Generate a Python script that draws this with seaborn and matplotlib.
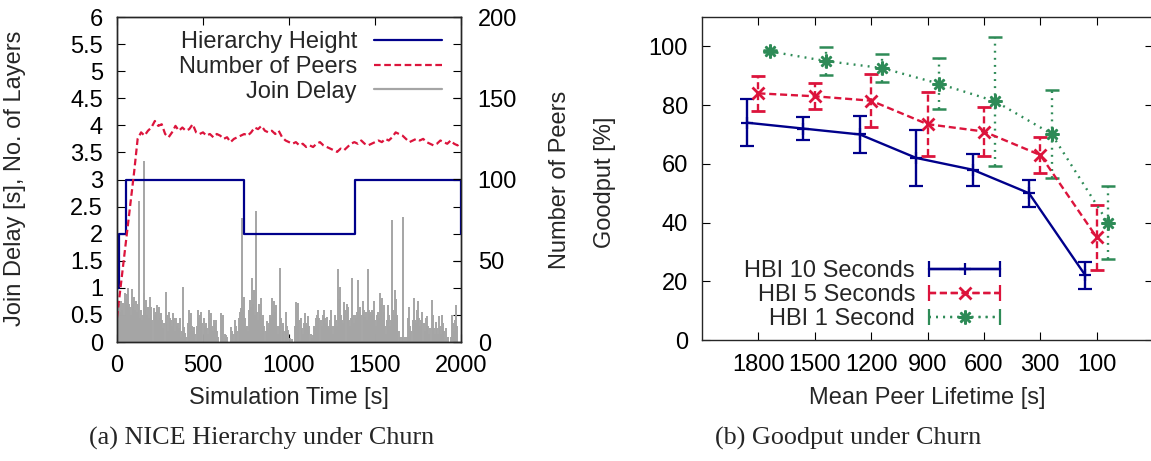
import matplotlib
matplotlib.use("Agg")
import matplotlib.pyplot as plt
import seaborn as sns
import numpy as np
from matplotlib.lines import Line2D
from matplotlib.legend_handler import HandlerTuple, HandlerLine2D

# ---- (a) NICE hierarchy under churn ----
height_t = [0, 10, 52, 738, 1386, 2000]
height_v = [1, 2, 3, 2, 3, 2]

peers_t = list(range(0, 2001, 20))
peers_v = [15, 33, 51, 69, 87, 105, 125, 129, 127, 130, 132, 136, 133, 134, 128, 126,
           129, 133, 130, 132, 130, 131, 134, 129, 128, 129, 127, 128, 126, 128, 127,
           125, 126, 123, 125, 126, 127, 128, 127, 129, 132, 131, 133, 130, 129, 130,
           128, 130, 126, 124, 123, 122, 123, 121, 122, 120, 121, 120, 122, 123, 121,
           120, 119, 118, 117, 119, 118, 120, 122, 123, 122, 124, 122, 121, 122, 123,
           124, 123, 125, 124, 126, 129, 128, 127, 125, 123, 124, 125, 124, 125, 123,
           122, 121, 122, 124, 123, 122, 124, 122, 121, 123]

delay_t = [3, 9, 15, 21, 27, 33, 39, 45, 51, 57, 63, 69, 75, 81, 87, 93, 99, 105, 111, 117,
           123, 127, 132, 137, 143, 149, 155, 159, 164, 170, 176, 182, 188, 194, 200, 206,
           213, 219, 225, 231, 237, 243, 249, 255, 261, 268, 275, 282, 288, 294, 300, 306,
           312, 318, 324, 330, 336, 342, 348, 354, 360, 366, 372, 378, 382, 388, 394, 402,
           414, 420, 426, 432, 438, 444, 450, 456, 464, 471, 477, 483, 489, 495, 504, 510,
           516, 522, 528, 534, 540, 546, 552, 558, 564, 570, 576, 582, 590, 607, 613, 619,
           625, 632, 640, 660, 666,
           674, 686, 692, 700, 708, 714, 720, 725, 729, 734, 740, 746, 752, 758, 764, 770,
           775, 781, 787, 792, 797, 802, 808, 814, 820, 825, 831, 837, 843, 851, 857, 864,
           870, 876, 884, 890, 896, 903, 908, 913, 918, 924, 930, 936, 942, 948, 954, 963,
           968, 975, 982, 988, 996, 1003, 1020, 1035, 1041, 1048, 1055, 1061, 1068, 1075,
           1082, 1088, 1093, 1099, 1104, 1109, 1116, 1125, 1135, 1141, 1147, 1152, 1157,
           1164, 1171, 1177, 1184, 1190, 1196, 1203, 1209, 1215, 1219, 1225, 1232, 1237,
           1242, 1248, 1254, 1260, 1267, 1273, 1278, 1283, 1290, 1296, 1302, 1308, 1315,
           1321, 1328,
           1335, 1341, 1347, 1353, 1360, 1368, 1374, 1379, 1384, 1390, 1396, 1403, 1408,
           1413, 1419, 1428, 1434, 1442, 1448, 1452, 1457, 1463, 1471, 1477, 1484, 1490,
           1496, 1502, 1508, 1513, 1519, 1524, 1529, 1534, 1539, 1545, 1550, 1554, 1560,
           1565, 1571, 1577, 1583, 1588, 1594, 1601, 1606, 1611, 1616, 1621, 1626, 1630,
           1637, 1645, 1658, 1665, 1672, 1686, 1692, 1698, 1704, 1712, 1720, 1727, 1733,
           1740, 1746, 1752, 1758, 1764, 1770, 1776, 1782, 1788, 1794, 1801, 1807, 1813,
           1820, 1830, 1836, 1842, 1848, 1853, 1860, 1867, 1874, 1880, 1886, 1891, 1897,
           1903, 1913, 1922, 1939, 1946, 1952, 1958, 1963, 1969, 1975]
delay_v = [0.6, 0.7, 0.55, 0.75, 0.6, 0.72, 0.5, 0.9, 0.8, 0.88, 1.0, 0.7, 0.65, 0.5, 0.97,
           0.7, 0.84, 0.6, 0.75, 0.55, 0.7, 2.6, 0.45, 0.6, 0.4, 0.5, 0.9, 3.35, 0.6, 0.78,
           0.5, 0.65, 0.45, 0.84, 0.65, 0.4, 0.62, 0.5, 0.55, 0.69, 0.4, 0.65, 0.45, 0.53,
           0.4, 0.25, 0.35, 0.93, 0.5, 0.2, 0.56, 0.45, 0.4, 0.3, 0.53, 0.45, 0.2, 0.44, 0.3,
           0.35, 0.25, 0.44, 0.1, 0.2, 1.02, 0.28, 0.16, 0.1, 0.35, 0.6, 0.45, 0.53, 0.3, 0.2,
           0.28, 0.15, 0.3, 0.6, 0.45, 0.5, 0.56, 0.35, 0.44, 0.3, 0.35, 0.25, 0.15, 0.6,
           0.45, 0.53, 0.3, 0.2, 0.4, 0.35, 0.4, 0.2, 0.1, 0.53, 0.4, 0.5, 0.15, 0.13, 0.1,
           0.28, 0.2,
           0.15, 0.4, 0.3, 0.2, 0.45, 0.55, 0.62, 0.5, 2.29, 0.6, 0.84, 0.45, 0.25, 0.3, 0.2,
           0.6, 0.78, 0.65, 1.18, 0.7, 0.96, 0.5, 2.41, 0.55, 0.4, 0.7, 0.55, 0.81, 0.45,
           0.5, 0.3, 0.2, 0.38, 0.25, 0.35, 0.5, 0.45, 0.81, 0.5, 0.75, 0.55, 0.69, 0.3,
           0.15, 0.3, 1.36, 0.45, 0.35, 0.3, 0.2, 0.55, 0.3, 0.22, 0.08, 0.05, 0.3, 0.73,
           0.6, 0.72, 0.4, 0.44, 0.25, 0.15, 0.35, 0.54, 0.35, 0.3, 0.48, 0.3, 0.15, 0.08,
           0.13, 0.3, 0.25, 0.45, 0.5, 0.6, 0.45, 0.4, 0.3, 0.5, 0.6, 0.45, 0.35, 0.47, 0.3,
           0.25, 0.4, 0.6, 0.3, 0.15, 0.3, 0.5, 0.4, 0.3, 1.35, 0.8, 1.02, 0.5, 0.4, 0.35,
           0.73, 0.6,
           0.7, 0.65, 0.4, 0.3, 0.45, 1.18, 0.5, 0.35, 0.5, 0.45, 0.55, 1.15, 0.6, 0.65, 0.5,
           0.75, 0.6, 0.47, 0.55, 0.4, 1.35, 0.6, 0.56, 0.5, 0.6, 0.55, 0.75, 0.4, 0.3, 0.5,
           0.55, 0.45, 0.91, 0.7, 0.81, 0.4, 0.55, 0.69, 0.3, 0.15, 0.4, 0.69, 0.5, 0.3, 0.4,
           2.25, 0.6, 0.5, 0.96, 0.8, 0.45, 0.5, 0.2, 0.1, 0.1, 2.3, 0.1, 0.1, 0.45, 0.65,
           0.3, 0.2, 0.4, 0.81, 0.4, 0.35, 0.6, 0.76, 0.45, 0.3, 0.4, 0.55, 0.35, 0.2, 0.45,
           0.48, 0.3, 0.15, 0.25, 0.78, 0.5, 0.25, 0.15, 0.37, 0.25, 0.15, 0.48, 0.3, 0.15,
           0.5, 0.35, 0.2, 0.25, 0.1, 0.1, 0.5, 0.35, 0.2, 0.4, 0.69, 0.3]

# ---- (b) goodput under churn ----
lifetimes = ["1800", "1500", "1200", "900", "600", "300", "100"]
hbi10 = [74, 72, 70, 62, 58, 50, 22]
hbi10_err = [8, 3.8, 6.4, 9.4, 5.4, 4.6, 4.5]
hbi5 = [84, 83, 81.5, 73.5, 71, 63, 35]
hbi5_err = [6, 4.5, 9, 11, 8.5, 6.2, 11]
hbi1 = [98.3, 95, 92.6, 87.3, 81.3, 70.2, 40]
hbi1_err = [0.3, 4.9, 4.8, 8.7, 22, 15, 12.5]

BLUE = "#00008b"
RED = "#dc143c"
GREEN = "#2e8b57"
GRAY = "#a5a5a5"
DASH = (0, (3, 1.6))
DOT = (0, (0.8, 2.2))
FS = 17

sns.set_theme(style="ticks")
plt.rcParams["font.family"] = ["Liberation Sans", "DejaVu Sans"]
plt.rcParams["axes.linewidth"] = 1.0

W, H = 1151, 461
fig = plt.figure(figsize=(W / 100, H / 100), dpi=100)
ax1 = fig.add_axes([117 / W, 1 - 342 / H, 344 / W, 325 / H])
ax2 = ax1.twinx()
axb = fig.add_axes([702 / W, 1 - 340 / H, 451 / W, 323 / H])

tick_kw = dict(direction="in", length=6, width=0.8, labelsize=FS, colors="black")

# left panel
ax1.vlines(delay_t, 0, delay_v, color=GRAY, lw=1.4, zorder=1)
sns.lineplot(x=height_t, y=height_v, ax=ax1, color=BLUE, lw=1.6,
             drawstyle="steps-post", zorder=3)
sns.lineplot(x=peers_t, y=peers_v, ax=ax2, color=RED, lw=1.6, linestyle=DASH)

ax1.set_xlim(0, 2000)
ax1.set_ylim(0, 6)
ax2.set_ylim(0, 200)
ax1.set_xticks([0, 500, 1000, 1500, 2000])
ax1.set_yticks(np.arange(0, 6.01, 0.5))
ax1.set_yticklabels([f"{v:g}" for v in np.arange(0, 6.01, 0.5)])
ax2.set_yticks([0, 50, 100, 150, 200])
ax1.tick_params(axis="both", top=True, right=True, **tick_kw)
ax1.tick_params(axis="x", pad=9)
ax1.tick_params(axis="y", pad=10)
ax2.tick_params(axis="y", pad=12, **tick_kw)
ax1.set_xlabel("")
ax1.set_ylabel("")
ax2.set_ylabel("")

leg_handles = [Line2D([], [], color=BLUE, lw=1.6),
               Line2D([], [], color=RED, lw=1.6, linestyle=DASH),
               Line2D([], [], color=GRAY, lw=1.6)]
ax2.legend(leg_handles, ["Hierarchy Height", "Number of Peers", "Join Delay"],
           loc="upper right", bbox_to_anchor=(442 / W, 1 - 31 / H),
           bbox_transform=fig.transFigure, frameon=False, markerfirst=False,
           handlelength=2.9, handletextpad=0.7, labelspacing=0.12,
           borderpad=0, borderaxespad=0, fontsize=FS)

# right panel
xpos = np.arange(1, len(lifetimes) + 1)
series = [
    (hbi10, hbi10_err, -0.2, BLUE, "-", "+", 9, 1.6, "HBI 10 Seconds"),
    (hbi5, hbi5_err, 0.0, RED, DASH, "x", 9, 2.0, "HBI 5 Seconds"),
    (hbi1, hbi1_err, 0.2, GREEN, DOT, (8, 2, 0), 10, 1.8, "HBI 1 Second"),
]
handles = []
hmap = {}
for vals, err, off, col, ls, mk, ms, mew, lab in series:
    cont = axb.errorbar(xpos + off, vals, yerr=err, color=col, lw=1.7, ls=ls,
                        marker=mk, ms=ms, mew=mew, capsize=5, capthick=1.6,
                        elinewidth=1.7)
    cont[2][0].set_linestyle(ls)
    caps = Line2D([], [], color=col, lw=1.7, ls=ls, marker="|", ms=11, mew=1.6)
    mid = Line2D([], [], color=col, lw=1.7, ls=ls, marker=mk, ms=ms, mew=mew)
    hmap[caps] = HandlerLine2D(numpoints=2, marker_pad=0)
    handles.append((caps, mid))

hmap[tuple] = HandlerTuple(ndivide=1)
axb.legend(handles, [s[-1] for s in series], handler_map=hmap,
           loc="upper right", bbox_to_anchor=(1000 / W, 1 - 260 / H),
           bbox_transform=fig.transFigure, frameon=False, markerfirst=False,
           handlelength=3.0, handletextpad=0.6, labelspacing=0.08,
           borderpad=0, borderaxespad=0, fontsize=FS)

axb.set_xlim(0, 8)
axb.set_ylim(0, 110)
axb.set_xticks(xpos)
axb.set_xticklabels(lifetimes)
axb.set_yticks([0, 20, 40, 60, 80, 100])
axb.tick_params(axis="both", top=True, right=True, **tick_kw)
axb.tick_params(axis="x", pad=10)
axb.tick_params(axis="y", pad=10)

# axis labels
fig.text(15 / W, 1 - 178 / H, "Join Delay [s], No. of Layers", rotation=90,
         ha="center", va="center", size=FS)
fig.text(560 / W, 1 - 180 / H, "Number of Peers", rotation=90,
         ha="center", va="center", size=FS)
fig.text(289 / W, 1 - 398 / H, "Simulation Time [s]", ha="center", va="center", size=FS)
fig.text(605 / W, 1 - 182 / H, "Goodput [%]", rotation=90,
         ha="center", va="center", size=FS)
fig.text(927 / W, 1 - 398 / H, "Mean Peer Lifetime [s]", ha="center", va="center", size=FS)

# captions
fig.text(262 / W, 1 - 438 / H, "(a) NICE Hierarchy under Churn", ha="center",
         va="center", size=18.8, family=["Liberation Serif"])
fig.text(848 / W, 1 - 438 / H, "(b) Goodput under Churn", ha="center",
         va="center", size=18.8, family=["Liberation Serif"])

fig.savefig("out.png", dpi=100)
